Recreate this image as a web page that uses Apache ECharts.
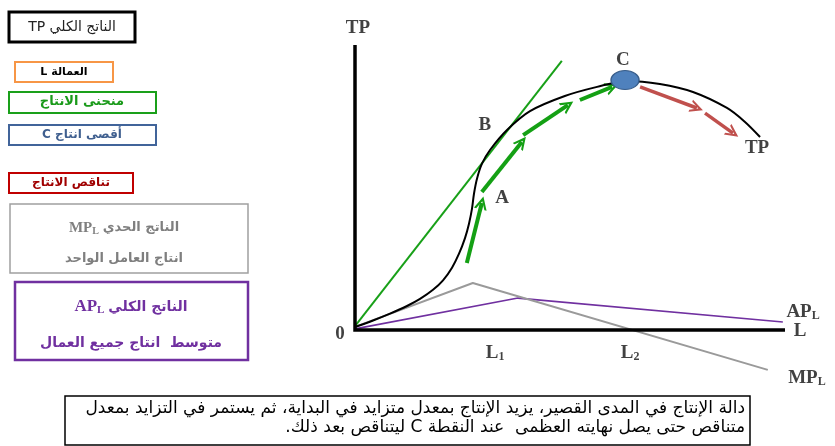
<!DOCTYPE html>
<html>
<head>
<meta charset="utf-8">
<script src="https://cdn.jsdelivr.net/npm/echarts@6/dist/echarts.min.js"></script>
<style>html,body{margin:0;padding:0;background:#fff;}</style>
</head>
<body>
<div id="c" style="width:835px;height:446px;direction:rtl"></div>
<script>
// ---- data (units: labour L on x, output on y) ----
const axisLines = [[0, 100], [0, 0], [100, 0]];
const tpCurve = [[0,1.05],[4.19,3.33],[8.14,5.72],[12.09,8.42],[15.12,10.91],[18.14,14.11],[20.47,17.44],[22.56,21.86],[24.19,26.77],[25.58,32.25],[26.51,37.3],[27.21,42.56],[27.67,47.82],[28.37,53.09],[29.53,58.35],[31.4,63.16],[35.35,70.18],[40.7,76.8],[48.8,82.1],[56.3,85.3],[63.3,87.4],[70.9,86.3],[78.6,83.5],[86.5,77.9],[90.7,73.0],[94.2,67.7]];
const tangentLine = [[0,1.4],[48.1,94.4]];
const mpLine = [[0,1.1],[27.4,16.5],[96.0,-14.0]];
const apLine = [[0,0.4],[37.9,11.2],[99.5,2.8]];
const peakC = [62.8, 87.7];
const greenArrows = [
  [[26.0,23.5],[29.5,44.6]],
  [[29.5,48.4],[38.8,66.0]],
  [[39.1,68.4],[49.5,78.9]],
  [[52.3,80.7],[59.8,85.3]]
];
const redArrows = [
  [[66.3,85.3],[79.5,77.9]],
  [[81.4,76.1],[87.9,69.1]]
];
const pointLabels = [
  {name: '{m|TP}', value: [0.7, 106]},
  {name: '{m|B}', value: [30.2, 71.9]},
  {name: '{m|C}', value: [62.3, 94.7]},
  {name: '{m|A}', value: [34.2, 46.3]},
  {name: '{m|TP}', value: [93.5, 63.9]},
  {name: '{m|0}', value: [-3.5, -1.4]},
  {name: '{m|L}{s|1}', value: [32.6, -8.1]},
  {name: '{m|L}{s|2}', value: [64.0, -8.1]},
  {name: '{m|L}', value: [103.5, -0.4]},
  {name: '{m|AP}{s|L}', value: [104.2, 6.3]},
  {name: '{m|MP}{s|L}', value: [105.1, -16.8]}
];
const legendTexts = {
  tp: 'الناتج الكلي TP',
  labour: 'العمالة L',
  curve: 'منحنى الانتاج',
  maxC: 'أقصى انتاج C',
  dim: 'تناقص الانتاج',
  mp1: 'الناتج الحدي',
  mp2: 'انتاج العامل الواحد',
  ap1: 'الناتج الكلي',
  ap2: 'متوسط  انتاج جميع العمال'
};
const noteLines = [
  'دالة الإنتاج في المدى القصير، يزيد الإنتاج بمعدل متزايد في البداية، ثم يستمر في التزايد بمعدل',
  'متناقص حتى يصل نهايته العظمى  عند النقطة C ليتناقص بعد ذلك.'
];

// ---- chart ----
const chev = 'path://M0,12 L10,0 L20,12 L16.5,12 L10,4.5 L3.5,12 Z';
const serif = '"Liberation Serif", "DejaVu Serif", serif';
const arab = '"DejaVu Sans", "Liberation Sans", sans-serif';

function box(x, y, w, h, color, lw) {
  return {type: 'rect', shape: {x: x, y: y, width: w, height: h}, style: {fill: '#fff', stroke: color, lineWidth: lw}};
}
function txt(x, y, text, style) {
  return {type: 'text', x: x, y: y, style: Object.assign({text: text, align: 'center', verticalAlign: 'middle', fontFamily: arab}, style)};
}

const chart = echarts.init(document.getElementById('c'), null, {renderer: 'canvas'});
chart.setOption({
  animation: false,
  backgroundColor: '#fff',
  grid: {left: 312, right: 7, top: 16.5, bottom: 59},
  xAxis: {type: 'value', min: -10, max: 110, show: false},
  yAxis: {type: 'value', min: -20, max: 110, show: false},
  series: [
    {type: 'line', data: apLine, symbol: 'none', lineStyle: {color: '#7030a0', width: 1.6}},
    {type: 'line', data: mpLine, symbol: 'none', lineStyle: {color: '#9a9a9a', width: 2}},
    {type: 'line', data: tangentLine, symbol: 'none', lineStyle: {color: '#18a018', width: 2}},
    {type: 'line', data: tpCurve, symbol: 'none', smooth: 0.3, lineStyle: {color: '#000', width: 2}},
    {type: 'line', data: axisLines, symbol: 'none', lineStyle: {color: '#000', width: 3.5, join: 'miter'}},
    {type: 'lines', coordinateSystem: 'cartesian2d', data: greenArrows.map(c => ({coords: c})),
      lineStyle: {color: '#14a014', width: 4, opacity: 1, curveness: 0}, symbol: ['none', chev], symbolSize: [16, 13]},
    {type: 'lines', coordinateSystem: 'cartesian2d', data: redArrows.map(c => ({coords: c})),
      lineStyle: {color: '#c0504d', width: 3.5, opacity: 1, curveness: 0}, symbol: ['none', chev], symbolSize: [16, 13]},
    {type: 'scatter', data: [peakC], symbol: 'circle', symbolSize: [28, 19],
      itemStyle: {color: '#4f81bd', borderColor: '#385d8a', borderWidth: 1.2, opacity: 1}, z: 5},
    {type: 'scatter', data: pointLabels, symbolSize: 0, z: 6,
      label: {show: true, position: 'inside', formatter: p => p.name,
        rich: {
          m: {fontFamily: serif, fontWeight: 'bold', fontSize: 19, color: '#111'},
          s: {fontFamily: serif, fontWeight: 'bold', fontSize: 12, color: '#111', verticalAlign: 'bottom', padding: [8, 0, 0, 0]}
        }}}
  ],
  graphic: [
    box(9, 12, 126, 30, '#000', 3), txt(72, 27, legendTexts.tp, {fontSize: 14, fill: '#222'}),
    box(15, 62, 98, 20, '#f79646', 2), txt(64, 72, legendTexts.labour, {fontSize: 11, fontWeight: 'bold', fill: '#000'}),
    box(9, 92, 147, 21, '#1aa01a', 2), txt(82, 102, legendTexts.curve, {fontSize: 13, fontWeight: 'bold', fill: '#1a9a1a'}),
    box(9, 125, 147, 20, '#41649a', 2), txt(82, 135, legendTexts.maxC, {fontSize: 12, fontWeight: 'bold', fill: '#3f5f8f'}),
    box(9, 173, 124, 20, '#c00000', 2), txt(71, 183, legendTexts.dim, {fontSize: 12, fontWeight: 'bold', fill: '#a00000'}),
    box(10, 204, 238, 69, '#a0a0a0', 1.5),
    txt(124, 228, '{a|MP}{s|L} {b|' + legendTexts.mp1 + '}', {rich: {
      a: {fontFamily: serif, fontWeight: 'bold', fontSize: 15, fill: '#7f7f7f'},
      s: {fontFamily: serif, fontWeight: 'bold', fontSize: 10, fill: '#7f7f7f', padding: [6, 0, 0, 0]},
      b: {fontFamily: arab, fontWeight: 'bold', fontSize: 13, fill: '#7f7f7f'}}}),
    txt(124, 259, legendTexts.mp2, {fontSize: 13, fontWeight: 'bold', fill: '#7f7f7f'}),
    box(15, 282, 233, 78, '#7030a0', 2.5),
    txt(131, 307, '{a|AP}{s|L} {b|' + legendTexts.ap1 + '}', {rich: {
      a: {fontFamily: serif, fontWeight: 'bold', fontSize: 17, fill: '#7030a0'},
      s: {fontFamily: serif, fontWeight: 'bold', fontSize: 11, fill: '#7030a0', padding: [7, 0, 0, 0]},
      b: {fontFamily: arab, fontWeight: 'bold', fontSize: 14, fill: '#7030a0'}}}),
    txt(131, 343, legendTexts.ap2, {fontSize: 14, fontWeight: 'bold', fill: '#7030a0'}),
    box(65, 396, 685, 49, '#000', 1.5),
    txt(745, 409, noteLines[0], {fontSize: 17, fill: '#000', align: 'right'}),
    txt(745, 428, noteLines[1], {fontSize: 17, fill: '#000', align: 'right'})
  ]
});
</script>
</body>
</html>
